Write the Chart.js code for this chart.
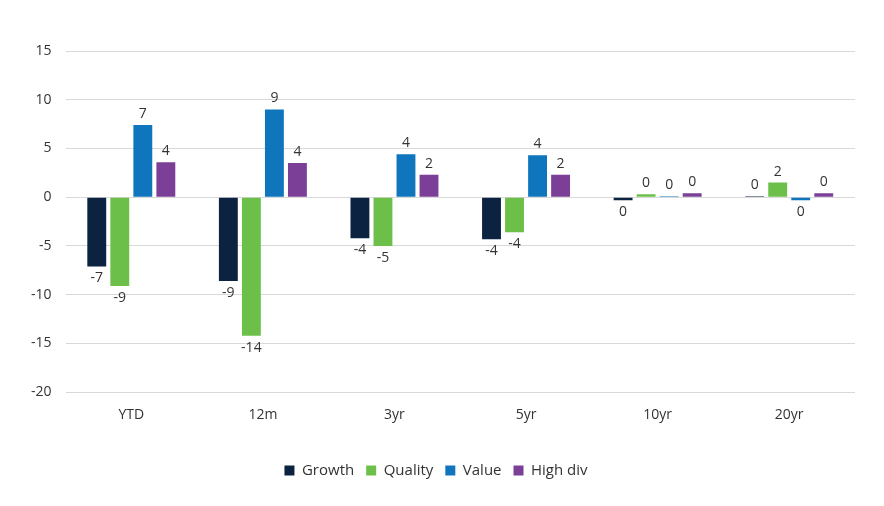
<!DOCTYPE html>
<html>
<head>
<meta charset="utf-8">
<script src="https://cdn.jsdelivr.net/npm/chart.js@4"></script>
<style>
  body { margin: 0; background: #fff; }
</style>
</head>
<body>
<canvas id="chart" width="884" height="506"></canvas>
<script>
const periods = ['YTD', '12m', '3yr', '5yr', '10yr', '20yr'];
const growth = [-7.1, -8.6, -4.2, -4.3, -0.3, 0.1];
const quality = [-9.1, -14.2, -5.0, -3.6, 0.3, 1.5];
const value = [7.4, 9.0, 4.4, 4.3, 0.1, -0.3];
const highDiv = [3.6, 3.5, 2.3, 2.3, 0.4, 0.4];
const yTicks = [15, 10, 5, 0, -5, -10, -15, -20];

const textColor = '#333333';
const fontFamily = "'Open Sans', 'Noto Sans', sans-serif";

// draws the rounded value at the end of each bar
const barLabels = {
    id: 'barLabels',
    afterDatasetsDraw(chart) {
        const ctx = chart.ctx;
        ctx.save();
        ctx.font = '14px ' + fontFamily;
        ctx.fillStyle = textColor;
        ctx.textAlign = 'center';
        chart.data.datasets.forEach((ds, i) => {
            const meta = chart.getDatasetMeta(i);
            meta.data.forEach((bar, j) => {
                const v = ds.data[j];
                const txt = String(Math.round(v)).replace('-0', '0');
                if (v >= 0) {
                    ctx.textBaseline = 'bottom';
                    ctx.fillText(txt, bar.x, bar.y - 4);
                } else {
                    ctx.textBaseline = 'top';
                    ctx.fillText(txt, bar.x, bar.y + 5);
                }
            });
        });
        ctx.restore();
    }
};

new Chart(document.getElementById('chart'), {
    type: 'bar',
    data: {
        labels: periods,
        datasets: [
            { label: 'Growth', data: growth, backgroundColor: '#0b2341' },
            { label: 'Quality', data: quality, backgroundColor: '#6cc04a' },
            { label: 'Value', data: value, backgroundColor: '#0f75bc' },
            { label: 'High div', data: highDiv, backgroundColor: '#7b3f98' }
        ]
    },
    options: {
        responsive: false,
        animation: false,
        devicePixelRatio: 1,
        layout: { padding: { top: 51, left: 17, right: 29, bottom: 18 } },
        datasets: {
            bar: { categoryPercentage: 0.7, barPercentage: 0.82 }
        },
        scales: {
            x: {
                grid: { display: false, drawTicks: false },
                border: { display: false },
                ticks: { color: textColor, font: { family: fontFamily, size: 14 }, padding: 14 },
                afterFit(scale) { scale.height += 14; }
            },
            y: {
                min: -20,
                max: 15,
                afterBuildTicks(scale) { scale.ticks = yTicks.map(v => ({ value: v })); },
                grid: { color: '#d9d9d9', drawTicks: false },
                border: { display: false },
                ticks: { color: textColor, font: { family: fontFamily, size: 14 }, padding: 14 }
            }
        },
        plugins: {
            legend: {
                position: 'bottom',
                labels: {
                    color: textColor,
                    font: { family: fontFamily, size: 15 },
                    boxWidth: 10,
                    boxHeight: 10,
                    padding: 12
                }
            },
            tooltip: { enabled: false }
        }
    },
    plugins: [barLabels]
});
</script>
</body>
</html>
